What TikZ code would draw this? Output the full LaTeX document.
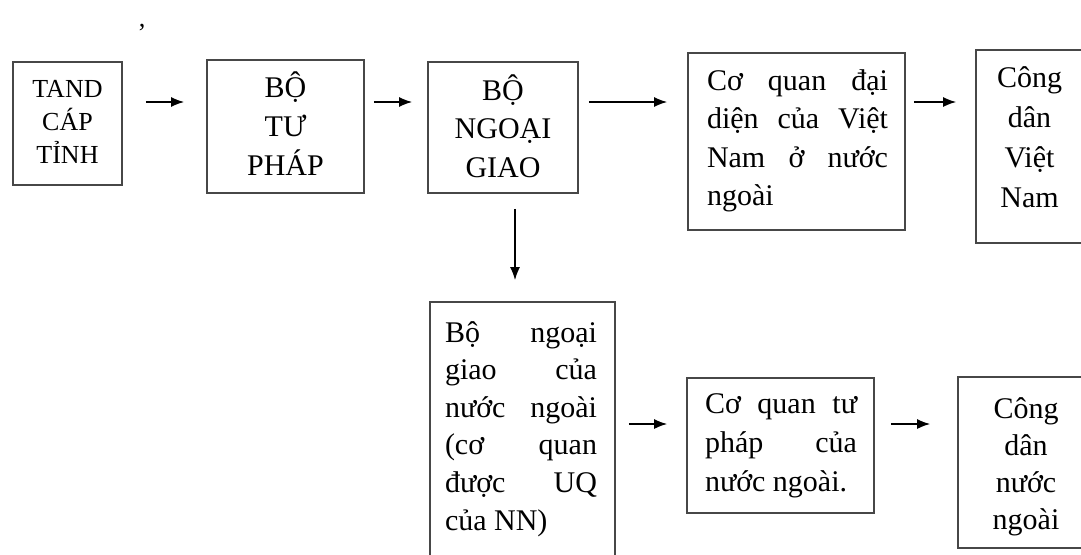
\documentclass[tikz,border=0pt]{standalone}
\usepackage{fontspec}
\setmainfont{Liberation Serif}
\usetikzlibrary{arrows.meta,calc}

% one justified line of a fixed width
\newcommand{\jl}[2]{\makebox[#1][s]{#2}}
% fixes the height of the first line so baselines can be placed exactly
\newcommand{\fl}{\rule{0pt}{30pt}}

\begin{document}
\begin{tikzpicture}[x=1pt,y=1pt,
  box/.style={draw=black!72,line width=1.6pt,fill=white,inner sep=0pt,
              minimum width=#1},
  txt/.style={inner sep=0pt,outer sep=0pt,font=\fontsize{30}{38.5}\selectfont},
  arr/.style={line width=1.6pt,-{Latex[length=13pt,width=10pt]}}]

\useasboundingbox (0,0) rectangle (1081,-554);

% boxes
\node[box=109pt,minimum height=123pt] (b1) at (67.5,-123.5) {};
\node[box=157pt,minimum height=133pt] (b2) at (285.5,-126.5) {};
\node[box=150pt,minimum height=131pt] (b3) at (503,-127.5) {};
\node[box=217pt,minimum height=177pt] (b4) at (796.5,-141.5) {};
\node[box=120pt,minimum height=193pt] (b5) at (1036,-146.5) {};
\node[box=185pt,minimum height=268pt] (b6) at (522.5,-436) {};
\node[box=187pt,minimum height=135pt] (b7) at (780.5,-445.5) {};
\node[box=140pt,minimum height=171pt] (b8) at (1028,-462.5) {};

% texts (north of each text = first baseline + 30pt)
\node[txt,anchor=north,align=center,font=\fontsize{26}{33}\selectfont]
  (t1) at (67.5,-67) {\fl TAND\\CÁP\\TỈNH};
\node[txt,anchor=north,align=center,font=\fontsize{30}{39}\selectfont]
  (t2) at (285.5,-67) {\fl BỘ\\TƯ\\PHÁP};
\node[txt,anchor=north,align=center]
  (t3) at (503,-70) {\fl BỘ\\NGOẠI\\GIAO};
\node[txt,anchor=north west,align=left]
  (t4) at (707,-60) {\fl\jl{181pt}{Cơ quan đại}\\
                     \jl{181pt}{diện của Việt}\\
                     \jl{181pt}{Nam ở nước}\\
                     ngoài};
\node[txt,anchor=north,align=center,font=\fontsize{30}{40}\selectfont]
  (t5) at (1029.5,-57) {\fl Công\\dân\\Việt\\Nam};
\node[txt,anchor=north west,align=left,font=\fontsize{30}{37.6}\selectfont]
  (t6) at (445,-312) {\fl\jl{152pt}{Bộ ngoại}\\
                      \jl{152pt}{giao của}\\
                      \jl{152pt}{nước ngoài}\\
                      \jl{152pt}{(cơ quan}\\
                      \jl{152pt}{được UQ}\\
                      của NN)};
\node[txt,anchor=north west,align=left,font=\fontsize{30}{39}\selectfont]
  (t7) at (705,-383) {\fl\jl{152pt}{Cơ quan tư}\\
                      \jl{152pt}{pháp của}\\
                      nước ngoài.};
\node[txt,anchor=north,align=center,font=\fontsize{30}{37}\selectfont]
  (t8) at (1026,-388) {\fl Công\\dân\\nước\\ngoài};

% stray mark above the first row
\node[txt,font=\fontsize{26}{26}\selectfont] (mark) at (142,-33) {’};

% arrow levels
\coordinate (topy) at (0,-102);
\coordinate (boty) at (0,-424);
\coordinate (vx) at (515,0);

% connectors
\draw[arr] ($(b1.east |- topy)+(23,0)$) -- ($(b2.west |- topy)+(-22,0)$);
\draw[arr] ($(b2.east |- topy)+(9,0)$)  -- ($(b3.west |- topy)+(-15,0)$);
\draw[arr] ($(b3.east |- topy)+(10,0)$) -- ($(b4.west |- topy)+(-20,0)$);
\draw[arr] ($(b4.east |- topy)+(8,0)$)  -- ($(b5.west |- topy)+(-19,0)$);
\draw[arr] ($(b3.south -| vx)+(0,-15)$) -- ($(b6.north -| vx)+(0,21)$);
\draw[arr] ($(b6.east |- boty)+(13,0)$) -- ($(b7.west |- boty)+(-19,0)$);
\draw[arr] ($(b7.east |- boty)+(16,0)$) -- ($(b8.west |- boty)+(-27,0)$);
\end{tikzpicture}
\end{document}
